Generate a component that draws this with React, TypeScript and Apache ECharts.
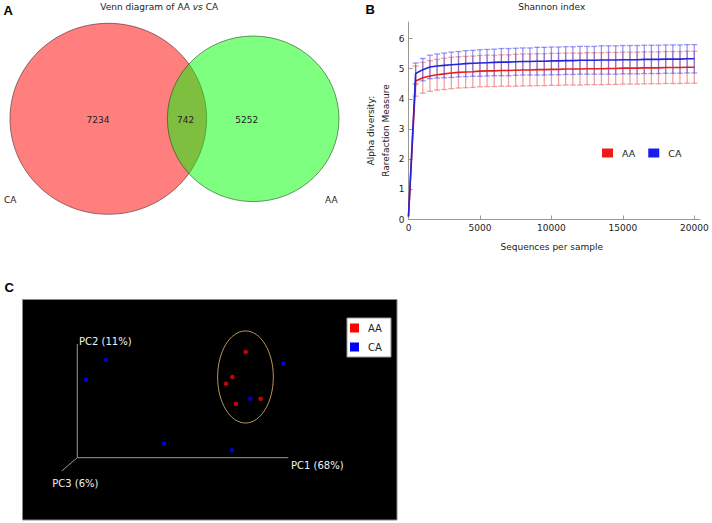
import React, { useEffect, useRef } from 'react';
import * as echarts from 'echarts';

// ---------- Panel A: Venn ----------
const vennSets = ['CA', 'AA'];
const vennCounts = [7234, 742, 5252]; // CA only, shared, AA only

// ---------- Panel B: Shannon rarefaction ----------
const depths = [0, 500, 1000, 1500, 2000, 2500, 3000, 3500, 4000, 4500, 5000, 5500, 6000, 6500, 7000, 7500, 8000, 8500, 9000, 9500, 10000, 10500, 11000, 11500, 12000, 12500, 13000, 13500, 14000, 14500, 15000, 15500, 16000, 16500, 17000, 17500, 18000, 18500, 19000, 19500, 20000];
const aaMean = [0.1, 4.59, 4.70, 4.76, 4.80, 4.83, 4.86, 4.88, 4.89, 4.90, 4.92, 4.93, 4.93, 4.94, 4.94, 4.95, 4.96, 4.96, 4.97, 4.97, 4.98, 4.98, 4.99, 4.99, 4.99, 5.00, 5.00, 5.00, 5.01, 5.01, 5.02, 5.02, 5.02, 5.03, 5.03, 5.03, 5.04, 5.04, 5.04, 5.05, 5.05];
const caMean = [0.1, 4.84, 4.97, 5.06, 5.09, 5.11, 5.13, 5.15, 5.17, 5.18, 5.19, 5.20, 5.21, 5.22, 5.22, 5.23, 5.24, 5.24, 5.25, 5.25, 5.26, 5.26, 5.27, 5.27, 5.28, 5.28, 5.28, 5.29, 5.29, 5.29, 5.30, 5.30, 5.30, 5.31, 5.31, 5.31, 5.32, 5.32, 5.32, 5.33, 5.33];
const aaSd = [0, 0.50, 0.51, 0.51, 0.51, 0.52, 0.52, 0.52, 0.52, 0.52, 0.52, 0.52, 0.52, 0.52, 0.52, 0.53, 0.53, 0.53, 0.53, 0.53, 0.53, 0.53, 0.53, 0.53, 0.53, 0.53, 0.53, 0.53, 0.53, 0.53, 0.53, 0.53, 0.53, 0.53, 0.53, 0.53, 0.53, 0.53, 0.53, 0.53, 0.53];
const caSd = [0, 0.35, 0.37, 0.39, 0.40, 0.41, 0.42, 0.42, 0.43, 0.43, 0.44, 0.44, 0.44, 0.45, 0.45, 0.45, 0.45, 0.45, 0.46, 0.46, 0.46, 0.46, 0.46, 0.46, 0.46, 0.46, 0.46, 0.47, 0.47, 0.47, 0.47, 0.47, 0.47, 0.47, 0.47, 0.47, 0.47, 0.47, 0.47, 0.47, 0.47];
const xTicks = [0, 5000, 10000, 15000, 20000];
const yTicks = [0, 1, 2, 3, 4, 5, 6];

// ---------- Panel C: PCoA (projected coordinates) ----------
const pcoaAA = [[0.798, 0.930], [0.735, 0.710], [0.705, 0.651], [0.869, 0.519], [0.752, 0.475]];
const pcoaCA = [[0.136, 0.859], [0.041, 0.686], [0.411, 0.123], [0.733, 0.065], [0.976, 0.827], [0.820, 0.519]];
const aaEllipse = [[0.797, 0.710, 0.132, 0.405]]; // cx, cy, rx, ry
const pcLabels = ['PC1 (68%)', 'PC2 (11%)', 'PC3 (6%)'];

const FONT = 'DejaVu Sans';

export default function App() {
  const ref = useRef<HTMLDivElement>(null);
  useEffect(() => {
    if (!ref.current) return;
    const chart = echarts.init(ref.current, null, { renderer: 'svg' });

    const errData = (mean: number[], sd: number[]) =>
      depths.map((d, i) => [d, mean[i] - sd[i], mean[i] + sd[i]]).filter((_, i) => sd[i] > 0);

    const errRender = (color: string) => (params: any, api: any) => {
      const x = api.value(0);
      const lo = api.coord([x, api.value(1)]);
      const hi = api.coord([x, api.value(2)]);
      const w = 3;
      const style = { stroke: color, lineWidth: 1.3 };
      return {
        type: 'group',
        children: [
          { type: 'line', shape: { x1: lo[0], y1: lo[1], x2: hi[0], y2: hi[1] }, style },
          { type: 'line', shape: { x1: lo[0] - w, y1: lo[1], x2: lo[0] + w, y2: lo[1] }, style },
          { type: 'line', shape: { x1: hi[0] - w, y1: hi[1], x2: hi[0] + w, y2: hi[1] }, style },
        ],
      };
    };

    const txt = (text: string, x: number, y: number, extra: any = {}) => ({
      type: 'text',
      x,
      y,
      style: {
        text,
        fontFamily: FONT,
        fontSize: 9,
        fill: '#222',
        align: 'center',
        verticalAlign: 'middle',
        ...extra,
      },
    });

    const option: any = {
      animation: false,
      backgroundColor: '#fff',
      textStyle: { fontFamily: FONT },
      grid: [
        { left: 408.5, top: 22, width: 291.5, height: 197.5, containLabel: false, outerBoundsMode: 'none' },
        { left: 77.3, top: 344, width: 211, height: 113.7, containLabel: false, outerBoundsMode: 'none' },
      ],
      xAxis: [
        {
          gridIndex: 0,
          type: 'value',
          min: 0,
          max: 20400,
          interval: 5000,
          axisLine: { lineStyle: { color: '#999', width: 1 } },
          axisTick: { inside: true, length: 4, lineStyle: { color: '#999' }, customValues: xTicks },
          axisLabel: {
            fontSize: 9,
            color: '#222',
            margin: 4,
            customValues: xTicks,
            formatter: (v: number) => (xTicks.indexOf(v) >= 0 ? String(v) : ''),
          },
          splitLine: { show: false },
        },
        { gridIndex: 1, type: 'value', min: 0, max: 1, show: false },
      ],
      yAxis: [
        {
          gridIndex: 0,
          type: 'value',
          min: 0,
          max: 6.55,
          interval: 1,
          axisLine: { show: true, lineStyle: { color: '#999', width: 1 } },
          axisTick: { show: true, inside: true, length: 4, lineStyle: { color: '#999' }, customValues: yTicks },
          axisLabel: {
            fontSize: 9,
            color: '#222',
            margin: 4,
            customValues: yTicks,
            formatter: (v: number) => (yTicks.indexOf(v) >= 0 ? String(v) : ''),
          },
          splitLine: { show: false },
        },
        { gridIndex: 1, type: 'value', min: 0, max: 1, show: false },
      ],
      legend: [
        {
          data: [
            { name: 'AA', itemStyle: { color: '#ee1a1a' } },
            { name: 'CA', itemStyle: { color: '#1a1aee' } },
          ],
          left: 602,
          top: 148,
          icon: 'rect',
          itemWidth: 11,
          itemHeight: 9,
          itemGap: 13,
          padding: 0,
          selectedMode: false,
          textStyle: { fontFamily: FONT, fontSize: 9.5, color: '#222', padding: [0, 0, 0, 4] },
        },
        {
          data: [
            { name: 'AA', itemStyle: { color: '#ff0000' } },
            { name: 'CA', itemStyle: { color: '#0000ff' } },
          ],
          orient: 'vertical',
          left: 347,
          top: 318,
          icon: 'rect',
          itemWidth: 9,
          itemHeight: 9,
          itemGap: 7,
          padding: [4, 9, 4, 3],
          backgroundColor: '#fff',
          borderColor: '#999',
          borderWidth: 1,
          selectedMode: false,
          textStyle: { fontFamily: FONT, fontSize: 10, lineHeight: 12, color: '#222', padding: [0, 0, 0, 4] },
        },
      ],
      series: [
        {
          type: 'custom',
          name: 'AA sd',
          xAxisIndex: 0,
          yAxisIndex: 0,
          data: errData(aaMean, aaSd),
          encode: { x: 0, y: [1, 2] },
          renderItem: errRender('rgba(232,70,70,0.5)'),
          z: 1,
        },
        {
          type: 'custom',
          name: 'CA sd',
          xAxisIndex: 0,
          yAxisIndex: 0,
          data: errData(caMean, caSd),
          encode: { x: 0, y: [1, 2] },
          renderItem: errRender('rgba(70,70,232,0.55)'),
          z: 1,
        },
        {
          type: 'line',
          name: 'AA',
          xAxisIndex: 0,
          yAxisIndex: 0,
          data: depths.map((d, i) => [d, aaMean[i]]),
          showSymbol: false,
          symbol: 'none',
          lineStyle: { color: '#e61e1e', width: 1.6 },
          itemStyle: { color: '#e61e1e' },
          z: 3,
        },
        {
          type: 'line',
          name: 'CA',
          xAxisIndex: 0,
          yAxisIndex: 0,
          data: depths.map((d, i) => [d, caMean[i]]),
          showSymbol: false,
          symbol: 'none',
          lineStyle: { color: '#2424d8', width: 1.6 },
          itemStyle: { color: '#2424d8' },
          z: 3,
        },
        {
          type: 'custom',
          name: 'AA cluster',
          xAxisIndex: 1,
          yAxisIndex: 1,
          data: aaEllipse,
          renderItem: (params: any, api: any) => {
            const c = api.coord([api.value(0), api.value(1)]);
            const s = api.size([api.value(2), api.value(3)]);
            return {
              type: 'ellipse',
              shape: { cx: c[0], cy: c[1], rx: s[0], ry: s[1] },
              style: { fill: 'none', stroke: '#b8955a', lineWidth: 1 },
            };
          },
          z: 3,
        },
        {
          type: 'scatter',
          name: 'AA',
          xAxisIndex: 1,
          yAxisIndex: 1,
          data: pcoaAA,
          symbolSize: 4.5,
          itemStyle: { color: '#ff0000' },
          z: 4,
        },
        {
          type: 'scatter',
          name: 'CA',
          xAxisIndex: 1,
          yAxisIndex: 1,
          data: pcoaCA,
          symbolSize: 4.5,
          itemStyle: { color: '#0000ff' },
          z: 4,
        },
      ],
      graphic: [
        // Panel labels
        txt('A', 3.5, 10.5, { fontFamily: 'Liberation Sans', fontWeight: 'bold', fontSize: 13, align: 'left', fill: '#000' }),
        txt('B', 365.5, 9.5, { fontFamily: 'Liberation Sans', fontWeight: 'bold', fontSize: 13, align: 'left', fill: '#000' }),
        txt('C', 4.5, 287.5, { fontFamily: 'Liberation Sans', fontWeight: 'bold', fontSize: 13, align: 'left', fill: '#000' }),
        // Venn
        {
          type: 'ellipse',
          shape: { cx: 108.3, cy: 118.8, rx: 98.3, ry: 95.5 },
          style: { fill: 'rgba(255,0,0,0.5)', stroke: 'rgba(60,30,30,0.7)', lineWidth: 0.8 },
        },
        {
          type: 'ellipse',
          shape: { cx: 253.2, cy: 118.8, rx: 85.8, ry: 82.8 },
          style: { fill: 'rgba(0,255,0,0.5)', stroke: 'rgba(30,60,30,0.7)', lineWidth: 0.8 },
        },
        txt(String(vennCounts[0]), 98, 119.5),
        txt(String(vennCounts[1]), 185.7, 119.5),
        txt(String(vennCounts[2]), 246.7, 119.5),
        txt(vennSets[0], 4, 199.5, { align: 'left' }),
        txt(vennSets[1], 325, 199.5, { align: 'left' }),
        {
          type: 'text',
          x: 159.2,
          y: 7,
          style: {
            text: '{n|Venn diagram of AA }{i|vs}{n| CA}',
            align: 'center',
            verticalAlign: 'middle',
            fontFamily: FONT,
            fontSize: 9,
            fill: '#222',
            rich: {
              n: { fontFamily: FONT, fontSize: 9, fill: '#222', color: '#222' },
              i: { fontFamily: FONT, fontSize: 9, fontStyle: 'italic', fill: '#222', color: '#222' },
            },
          },
        },
        // Panel B texts
        txt('Shannon index', 551.7, 7.3),
        txt('Sequences per sample', 551.7, 247.3),
        {
          type: 'text',
          x: 378.5,
          y: 130.5,
          rotation: Math.PI / 2,
          style: {
            text: 'Alpha diversity:\nRarefaction Measure',
            fontFamily: FONT,
            fontSize: 9,
            lineHeight: 15,
            fill: '#222',
            align: 'center',
            verticalAlign: 'middle',
          },
        },
        // Panel C
        {
          type: 'rect',
          shape: { x: 22.5, y: 299.5, width: 374.5, height: 220.5 },
          style: { fill: '#000', stroke: '#8a8a8a', lineWidth: 1 },
        },
        {
          type: 'line',
          shape: { x1: 77.3, y1: 344, x2: 77.3, y2: 457.7 },
          style: { stroke: '#9a9a9a', lineWidth: 1 },
        },
        {
          type: 'line',
          shape: { x1: 77.3, y1: 457.7, x2: 288.3, y2: 457.7 },
          style: { stroke: '#9a9a9a', lineWidth: 1 },
        },
        {
          type: 'line',
          shape: { x1: 77.3, y1: 457.7, x2: 61.7, y2: 471 },
          style: { stroke: '#9a9a9a', lineWidth: 1 },
        },
        txt(pcLabels[0], 291, 465, { align: 'left', fontSize: 10, fill: '#f2f2f2' }),
        txt(pcLabels[1], 79, 341.5, { align: 'left', fontSize: 10, fill: '#f2f2f2' }),
        txt(pcLabels[2], 52.3, 483.3, { align: 'left', fontSize: 10, fill: '#f2f2f2' }),
      ],
    };

    chart.setOption(option);
    return () => chart.dispose();
  }, []);

  return (
    <div
      ref={ref}
      style={{ position: 'fixed', left: 0, top: 0, width: 712, height: 523, background: '#fff' }}
    />
  );
}
